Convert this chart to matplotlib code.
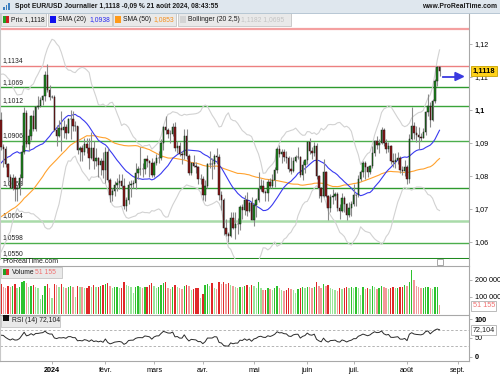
import numpy as np
import pandas as pd
import matplotlib
matplotlib.use('Agg')
import matplotlib.pyplot as plt
from matplotlib.patches import Rectangle, Polygon
from matplotlib.lines import Line2D
import matplotlib.transforms as mtransforms

plt.rcParams['font.family'] = ['Liberation Sans', 'DejaVu Sans']

# closes from 19 sept. to 29 nov. 2023, only used to warm up SMA / Bollinger / RSI
warmup_closes = [1.0677, 1.0660, 1.0660, 1.0645, 1.0590, 1.0570, 1.0500, 1.0565, 1.0573,
                 1.0477, 1.0468, 1.0505, 1.0549, 1.0588, 1.0564, 1.0605, 1.0620, 1.0529, 1.0509,
                 1.0559, 1.0576, 1.0536, 1.0578, 1.0594, 1.0670, 1.0589, 1.0565, 1.0563, 1.0565,
                 1.0615, 1.0577,
                 1.0571, 1.0620, 1.0728, 1.0721, 1.0697, 1.0709, 1.0666, 1.0684, 1.0700, 1.0880,
                 1.0849, 1.0851, 1.0912, 1.0940, 1.0906, 1.0887, 1.0903, 1.0941, 1.0953, 1.0994, 1.0970]

# daily EUR/USD, 30 nov. 2023 -> 21 août 2024 (one line per month)
opens = [
    1.0970, 1.0888, 1.0883, 1.0836, 1.0797, 1.0765, 1.0794, 1.0760, 1.0763, 1.0793, 1.0873, 1.0991, 1.0896, 1.0922, 1.0981, 1.0941, 1.1010, 1.1012, 1.1030, 1.1042, 1.1105, 1.1061,
    1.1039, 1.1040, 1.0940, 1.0921, 1.0946, 1.0940, 1.0949, 1.0931, 1.0972, 1.0973, 1.0951, 1.0951, 1.0878, 1.0884, 1.0874, 1.0897, 1.0884, 1.0856, 1.0884, 1.0844, 1.0854, 1.0833, 1.0845,
    1.0818, 1.0873, 1.0789, 1.0742, 1.0755, 1.0773, 1.0779, 1.0784, 1.0771, 1.0709, 1.0727, 1.0772, 1.0777, 1.0778, 1.0808, 1.0821, 1.0822, 1.0820, 1.0850, 1.0845, 1.0838,
    1.0804, 1.0838, 1.0855, 1.0856, 1.0900, 1.0947, 1.0938, 1.0927, 1.0926, 1.0947, 1.0884, 1.0890, 1.0866, 1.0865, 1.0922, 1.0862, 1.0809, 1.0838, 1.0831, 1.0826, 1.0790,
    1.0791, 1.0742, 1.0771, 1.0836, 1.0837, 1.0836, 1.0861, 1.0857, 1.0741, 1.0726, 1.0641, 1.0623, 1.0619, 1.0672, 1.0643, 1.0655, 1.0654, 1.0705, 1.0697, 1.0728, 1.0694, 1.0719,
    1.0666, 1.0711, 1.0727, 1.0761, 1.0771, 1.0752, 1.0748, 1.0783, 1.0771, 1.0789, 1.0819, 1.0883, 1.0866, 1.0872, 1.0857, 1.0854, 1.0821, 1.0816, 1.0846, 1.0857, 1.0858, 1.0802, 1.0833,
    1.0848, 1.0902, 1.0876, 1.0870, 1.0892, 1.0801, 1.0764, 1.0740, 1.0813, 1.0740, 1.0703, 1.0736, 1.0739, 1.0745, 1.0704, 1.0693, 1.0733, 1.0714, 1.0681, 1.0702,
    1.0714, 1.0742, 1.0742, 1.0790, 1.0811, 1.0840, 1.0826, 1.0813, 1.0830, 1.0870, 1.0907, 1.0895, 1.0901, 1.0939, 1.0899, 1.0881, 1.0891, 1.0845, 1.0843, 1.0849, 1.0855, 1.0817, 1.0815,
    1.0826, 1.0790, 1.0911, 1.0952, 1.0930, 1.0923, 1.0919, 1.0916, 1.0933, 1.0993, 1.1012, 1.0970, 1.1027, 1.1087, 1.1129,
]
highs = [
    1.0993, 1.0897, 1.0890, 1.0840, 1.0806, 1.0805, 1.0800, 1.0773, 1.0805, 1.0895, 1.1009, 1.1000, 1.0941, 1.0984, 1.1000, 1.1011, 1.1041, 1.1040, 1.1046, 1.1117, 1.1139, 1.1077,
    1.1045, 1.1046, 1.0954, 1.0970, 1.0998, 1.0969, 1.0958, 1.0976, 1.0999, 1.0998, 1.0968, 1.0951, 1.0890, 1.0895, 1.0916, 1.0914, 1.0914, 1.0932, 1.0905, 1.0885, 1.0857, 1.0855, 1.0873,
    1.0889, 1.0884, 1.0795, 1.0764, 1.0786, 1.0795, 1.0806, 1.0807, 1.0794, 1.0737, 1.0785, 1.0789, 1.0789, 1.0839, 1.0829, 1.0888, 1.0838, 1.0853, 1.0865, 1.0848, 1.0855,
    1.0846, 1.0866, 1.0877, 1.0912, 1.0951, 1.0981, 1.0944, 1.0940, 1.0961, 1.0964, 1.0906, 1.0903, 1.0875, 1.0942, 1.0942, 1.0866, 1.0842, 1.0864, 1.0842, 1.0829, 1.0805,
    1.0801, 1.0788, 1.0840, 1.0876, 1.0855, 1.0866, 1.0885, 1.0868, 1.0756, 1.0733, 1.0671, 1.0631, 1.0691, 1.0691, 1.0690, 1.0673, 1.0712, 1.0715, 1.0742, 1.0753, 1.0725, 1.0737,
    1.0719, 1.0732, 1.0812, 1.0791, 1.0789, 1.0758, 1.0790, 1.0793, 1.0806, 1.0827, 1.0887, 1.0895, 1.0882, 1.0882, 1.0877, 1.0862, 1.0858, 1.0858, 1.0865, 1.0889, 1.0862, 1.0846, 1.0852,
    1.0904, 1.0916, 1.0888, 1.0902, 1.0900, 1.0802, 1.0767, 1.0852, 1.0815, 1.0741, 1.0744, 1.0761, 1.0751, 1.0750, 1.0716, 1.0747, 1.0740, 1.0718, 1.0721, 1.0723,
    1.0777, 1.0746, 1.0803, 1.0817, 1.0845, 1.0845, 1.0830, 1.0834, 1.0892, 1.0910, 1.0922, 1.0912, 1.0948, 1.0944, 1.0912, 1.0903, 1.0895, 1.0869, 1.0869, 1.0872, 1.0860, 1.0829, 1.0848,
    1.0834, 1.0926, 1.1009, 1.0965, 1.0950, 1.0948, 1.0931, 1.0946, 1.0998, 1.1047, 1.1025, 1.1033, 1.1093, 1.1134, 1.1133,
]
lows = [
    1.0880, 1.0828, 1.0828, 1.0785, 1.0763, 1.0757, 1.0724, 1.0723, 1.0742, 1.0773, 1.0866, 1.0887, 1.0875, 1.0908, 1.0935, 1.0937, 1.1002, 1.1010, 1.1016, 1.1027, 1.1054, 1.1030,
    1.1035, 1.0937, 1.0892, 1.0917, 1.0877, 1.0916, 1.0911, 1.0931, 1.0912, 1.0937, 1.0937, 1.0867, 1.0845, 1.0845, 1.0865, 1.0871, 1.0821, 1.0852, 1.0822, 1.0829, 1.0796, 1.0804, 1.0795,
    1.0780, 1.0781, 1.0722, 1.0723, 1.0740, 1.0754, 1.0760, 1.0762, 1.0701, 1.0695, 1.0716, 1.0735, 1.0764, 1.0761, 1.0792, 1.0803, 1.0796, 1.0805, 1.0827, 1.0796, 1.0796,
    1.0797, 1.0834, 1.0838, 1.0848, 1.0880, 1.0926, 1.0915, 1.0900, 1.0920, 1.0877, 1.0870, 1.0861, 1.0835, 1.0850, 1.0853, 1.0802, 1.0804, 1.0828, 1.0810, 1.0776, 1.0775,
    1.0728, 1.0724, 1.0765, 1.0825, 1.0792, 1.0822, 1.0840, 1.0728, 1.0697, 1.0622, 1.0617, 1.0601, 1.0616, 1.0638, 1.0610, 1.0623, 1.0635, 1.0670, 1.0683, 1.0679, 1.0690, 1.0666,
    1.0649, 1.0675, 1.0720, 1.0755, 1.0749, 1.0724, 1.0724, 1.0764, 1.0764, 1.0766, 1.0810, 1.0857, 1.0838, 1.0846, 1.0838, 1.0812, 1.0805, 1.0812, 1.0842, 1.0850, 1.0797, 1.0788, 1.0810,
    1.0836, 1.0866, 1.0853, 1.0860, 1.0792, 1.0732, 1.0722, 1.0737, 1.0735, 1.0668, 1.0690, 1.0715, 1.0728, 1.0693, 1.0671, 1.0691, 1.0690, 1.0667, 1.0675, 1.0680,
    1.0710, 1.0710, 1.0737, 1.0785, 1.0796, 1.0792, 1.0796, 1.0806, 1.0825, 1.0860, 1.0882, 1.0870, 1.0896, 1.0891, 1.0869, 1.0874, 1.0837, 1.0826, 1.0825, 1.0837, 1.0808, 1.0802, 1.0800,
    1.0777, 1.0778, 1.0908, 1.0913, 1.0902, 1.0881, 1.0905, 1.0915, 1.0925, 1.0982, 1.0949, 1.0966, 1.1021, 1.1073, 1.1102,
]
closes = [
    1.0888, 1.0883, 1.0836, 1.0797, 1.0765, 1.0794, 1.0760, 1.0763, 1.0793, 1.0873, 1.0991, 1.0896, 1.0922, 1.0981, 1.0941, 1.1010, 1.1012, 1.1030, 1.1042, 1.1105, 1.1061, 1.1039,
    1.1040, 1.0940, 1.0921, 1.0946, 1.0940, 1.0949, 1.0931, 1.0972, 1.0973, 1.0951, 1.0951, 1.0878, 1.0884, 1.0874, 1.0897, 1.0884, 1.0856, 1.0884, 1.0844, 1.0854, 1.0833, 1.0845, 1.0818,
    1.0873, 1.0789, 1.0742, 1.0755, 1.0773, 1.0779, 1.0784, 1.0771, 1.0709, 1.0727, 1.0772, 1.0777, 1.0778, 1.0808, 1.0821, 1.0822, 1.0820, 1.0850, 1.0845, 1.0838, 1.0804,
    1.0838, 1.0855, 1.0856, 1.0900, 1.0947, 1.0938, 1.0927, 1.0926, 1.0947, 1.0884, 1.0890, 1.0866, 1.0865, 1.0922, 1.0862, 1.0809, 1.0838, 1.0831, 1.0826, 1.0790, 1.0791,
    1.0742, 1.0771, 1.0836, 1.0837, 1.0836, 1.0861, 1.0857, 1.0741, 1.0726, 1.0641, 1.0623, 1.0619, 1.0672, 1.0643, 1.0655, 1.0654, 1.0705, 1.0697, 1.0728, 1.0694, 1.0719, 1.0666,
    1.0711, 1.0727, 1.0761, 1.0771, 1.0752, 1.0748, 1.0783, 1.0771, 1.0789, 1.0819, 1.0883, 1.0866, 1.0872, 1.0857, 1.0854, 1.0821, 1.0816, 1.0846, 1.0857, 1.0858, 1.0802, 1.0833, 1.0848,
    1.0902, 1.0876, 1.0870, 1.0892, 1.0801, 1.0764, 1.0740, 1.0813, 1.0740, 1.0703, 1.0736, 1.0739, 1.0745, 1.0704, 1.0693, 1.0733, 1.0714, 1.0681, 1.0702, 1.0714,
    1.0742, 1.0742, 1.0790, 1.0811, 1.0840, 1.0826, 1.0813, 1.0830, 1.0870, 1.0907, 1.0895, 1.0901, 1.0939, 1.0899, 1.0881, 1.0891, 1.0845, 1.0843, 1.0849, 1.0855, 1.0817, 1.0815, 1.0826,
    1.0790, 1.0911, 1.0952, 1.0930, 1.0923, 1.0919, 1.0916, 1.0933, 1.0993, 1.1012, 1.0970, 1.1027, 1.1087, 1.1129, 1.1118,
]
# volume, thousands
volumes = [
    175, 160, 150, 165, 160, 165, 175, 150, 160, 185, 195, 180, 160, 165, 170, 160, 150, 85, 110, 165, 175, 150,
    95, 175, 170, 160, 175, 155, 150, 160, 165, 155, 100, 165, 160, 155, 150, 150, 165, 160, 170, 155, 160, 165, 170,
    175, 180, 165, 150, 155, 160, 150, 150, 185, 170, 165, 160, 120, 155, 165, 160, 150, 155, 160, 170, 180,
    165, 150, 160, 170, 180, 185, 150, 145, 160, 170, 160, 150, 145, 165, 170, 165, 140, 145, 150, 150, 95,
    115, 170, 175, 165, 180, 150, 145, 185, 175, 185, 175, 180, 170, 165, 160, 150, 160, 155, 165, 170, 155, 170,
    165, 150, 185, 150, 140, 140, 150, 145, 140, 150, 165, 150, 140, 135, 140, 150, 145, 140, 120, 145, 150, 155, 150,
    160, 155, 150, 155, 185, 165, 150, 175, 165, 170, 150, 145, 140, 135, 150, 145, 150, 155, 150, 160,
    150, 155, 150, 110, 160, 145, 150, 145, 165, 160, 145, 150, 165, 160, 150, 145, 150, 155, 150, 150, 155, 160, 170,
    165, 190, 260, 200, 165, 160, 150, 150, 155, 160, 150, 145, 160, 160, 51.155,
]

levels = [1.1245, 1.1134, 1.1069, 1.1012, 1.0906, 1.0763, 1.0664, 1.0598, 1.0550]
level_labels = ['', '1,1134', '1,1069', '1,1012', '1,0906', '1,0763', '1,0664', '1,0598', '1,0550']
level_colors = ['#f4a0a0', '#ec8080', '#2e9a2e', '#3aa43a', '#4cae4c', '#2e9a2e', '#a9dba9', '#4cae4c', '#1f8a1f']
level_widths = [1.6, 1.0, 1.0, 1.0, 1.0, 1.0, 1.8, 1.0, 2.2]

price_ticks = [1.06, 1.07, 1.08, 1.09, 1.10, 1.11, 1.12]
price_tick_labels = ['1,06', '1,07', '1,08', '1,09', '1,1', '1,11', '1,12']
month_starts = ['2024-01-01', '2024-02-01', '2024-03-01', '2024-04-01', '2024-05-01',
                '2024-06-01', '2024-07-01', '2024-08-01', '2024-09-01']
month_labels = ['2024', 'févr.', 'mars', 'avr.', 'mai', 'juin', 'juil.', 'août', 'sept.']

W, H = 500, 375


def box(x0, y0, x1, y1):
    # pixel rectangle (top-left origin) -> figure fraction
    return [x0 / W, 1 - y1 / H, (x1 - x0) / W, (y1 - y0) / H]


def fx(x):
    return x / W


def fy(y):
    return 1 - y / H


o = np.array(opens)
h = np.array(highs)
l = np.array(lows)
c = np.array(closes)
v = np.array(volumes)
n = len(c)
idx = np.arange(n)

# indicators
full = pd.Series(warmup_closes + closes)
sma20 = full.rolling(20).mean().values[-n:]
sma50 = full.rolling(50).mean().values[-n:]
sd20 = full.rolling(20).std(ddof=0).values[-n:]
bb_up = sma20 + 2.5 * sd20
bb_dn = sma20 - 2.5 * sd20
delta = full.diff()
gain = delta.clip(lower=0).ewm(alpha=1 / 14, adjust=False).mean()
loss = (-delta.clip(upper=0)).ewm(alpha=1 / 14, adjust=False).mean()
rsi = (100 - 100 / (1 + gain / loss)).values[-n:]

all_days = pd.bdate_range('2023-11-30', '2024-09-30')
month_pos = [int(all_days.searchsorted(pd.Timestamp(m))) for m in month_starts]

fig = plt.figure(figsize=(5, 3.75), dpi=100)
fig.patch.set_facecolor('white')
xlim = (-0.41, 201.7)
spine_c = '#a8a8a8'

# ---------------- price panel
ax = fig.add_axes(box(0, 13, 469, 258.5))
ax.set_xlim(*xlim)
ax.set_ylim(1.05500, 1.12939)
for lv, lab, col, lw in zip(levels, level_labels, level_colors, level_widths):
    ax.axhline(lv, color=col, lw=lw, zorder=1)
    if lab:
        ax.text(0.8, lv + 0.0005, lab, fontsize=4.9, color='#222222', va='bottom', ha='left', zorder=1.5)

ax.plot(idx, bb_up, color='#d2d2d2', lw=0.8, zorder=2)
ax.plot(idx, bb_dn, color='#d2d2d2', lw=0.8, zorder=2)
ax.plot(idx, sma50, color='#ffa22e', lw=0.8, zorder=2)
ax.plot(idx, sma20, color='#3a3af0', lw=0.8, zorder=2)

ax.vlines(idx, l, h, color='#8a8a8a', lw=0.8, zorder=3)
up = c >= o
body_col = np.where(up, '#1c8a1c', '#8e1414')
body = np.maximum(np.abs(c - o), 0.00008)
ax.bar(idx, body, bottom=np.minimum(o, c), width=0.62, color=body_col,
       edgecolor='#1a1a1a', linewidth=0.35, zorder=4)

ax.yaxis.tick_right()
ax.set_yticks(price_ticks)
ax.set_yticklabels(price_tick_labels)
ax.tick_params(axis='y', length=2, width=0.6, color=spine_c, pad=2, labelsize=5.2)
for t in ax.get_yticklabels():
    if t.get_text() == '1,1':
        t.set_fontweight('bold')
ax.set_xticks([])
for s in ['top', 'bottom']:
    ax.spines[s].set_visible(False)
ax.spines['right'].set_color(spine_c)
ax.spines['left'].set_color('#c8c8c8')

# last price label + arrow
trans = mtransforms.blended_transform_factory(ax.transAxes, ax.transData)
ax.text(1.008, c[-1], '1,1118', transform=trans, fontsize=5.4, fontweight='bold',
        va='center', ha='left', zorder=10,
        bbox=dict(boxstyle='square,pad=0.25', fc='#ffd21a', ec='#c8a200', lw=0.6))
fig.add_artist(Line2D([fx(443), fx(456)], [fy(76.5), fy(76.5)], color='#3a3ae0', lw=1.3,
                      transform=fig.transFigure))
fig.add_artist(Polygon([[fx(455), fy(72.5)], [fx(463.5), fy(76.5)], [fx(455), fy(80.5)]],
                       closed=True, color='#3a3ae0', transform=fig.transFigure))

# ---------------- separator between panels
fig.text(fx(2), fy(261.5), 'ProRealTime.com', fontsize=5, va='center', ha='left', color='#222222')
fig.add_artist(Line2D([0, fx(469)], [fy(265.5), fy(265.5)], color=spine_c, lw=0.8,
                      transform=fig.transFigure))
fig.add_artist(Line2D([fx(469), fx(469)], [fy(258.5), fy(265.5)], color=spine_c, lw=0.8,
                      transform=fig.transFigure))
fig.patches.append(Rectangle((fx(437), fy(264.5)), 6 / W, 5.5 / H, transform=fig.transFigure,
                             fc='white', ec='#999999', lw=0.6))

# ---------------- volume panel
axv = fig.add_axes(box(0, 265.5, 469, 313.5))
axv.set_xlim(*xlim)
axv.set_ylim(0, 285)
prev = np.concatenate([[v[0]], v[:-1]])
vcol = []
for i in range(n):
    if up[i]:
        vcol.append('#2ec22e' if v[i] >= prev[i] else '#9ae49a')
    else:
        vcol.append('#e02828' if v[i] >= prev[i] else '#f29a9a')
axv.bar(idx, v, width=0.6, color=vcol, linewidth=0)
axv.yaxis.tick_right()
axv.set_yticks([100, 200])
axv.set_yticklabels(['100 000', '200 000'])
axv.tick_params(axis='y', length=2, width=0.6, color=spine_c, pad=2, labelsize=5.2)
axv.set_xticks([])
for s in ['top', 'bottom']:
    axv.spines[s].set_visible(False)
axv.spines['right'].set_color(spine_c)
axv.spines['left'].set_color('#c8c8c8')
transv = mtransforms.blended_transform_factory(axv.transAxes, axv.transData)
axv.text(1.008, v[-1] - 6, '51 155', transform=transv, fontsize=5.2, color='#f07070',
         va='center', ha='left', zorder=10,
         bbox=dict(boxstyle='square,pad=0.2', fc='white', ec='#b0b0b0', lw=0.6))

# ---------------- RSI panel
axr = fig.add_axes(box(0, 314.5, 469, 361))
axr.set_xlim(*xlim)
axr.set_ylim(-10.7, 112)
axr.axhline(70, color='#b4b4b4', lw=0.7, ls=(0, (2.5, 2)))
axr.axhline(30, color='#b4b4b4', lw=0.7, ls=(0, (2.5, 2)))
axr.plot(idx, rsi, color='#2a2a2a', lw=0.7)
axr.yaxis.tick_right()
axr.set_yticks([0, 50, 100])
axr.set_yticklabels(['0', '50', '100'])
axr.tick_params(axis='y', length=2, width=0.6, color=spine_c, pad=2, labelsize=5.2)
for t in axr.get_yticklabels():
    if t.get_text() in ('0', '100'):
        t.set_fontweight('bold')
axr.set_xticks(month_pos)
axr.set_xticklabels(month_labels)
axr.tick_params(axis='x', length=2, width=0.6, color=spine_c, pad=2, labelsize=5.2)
axr.get_xticklabels()[0].set_fontweight('bold')
axr.spines['top'].set_color(spine_c)
axr.spines['right'].set_color(spine_c)
axr.spines['bottom'].set_color(spine_c)
axr.spines['left'].set_color('#c8c8c8')
transr = mtransforms.blended_transform_factory(axr.transAxes, axr.transData)
axr.text(1.008, 72.1, '72,104', transform=transr, fontsize=5.2, color='#222222',
         va='center', ha='left', zorder=10,
         bbox=dict(boxstyle='square,pad=0.2', fc='white', ec='#b0b0b0', lw=0.6))

# ---------------- header
fig.patches.append(Rectangle((0, fy(12.5)), 1, 12.5 / H, transform=fig.transFigure,
                             fc='#dfe7ee', ec='none'))
fig.add_artist(Line2D([0, 1], [fy(12.5), fy(12.5)], color='#b7c7d4', lw=0.7, transform=fig.transFigure))
for bx, bh in [(3, 3), (5.5, 5), (8, 7)]:
    fig.patches.append(Rectangle((fx(bx), fy(10)), 1.6 / W, bh / H, transform=fig.transFigure,
                                 fc='#3d7fc0', ec='none'))
fig.text(fx(15), fy(6.3), 'Spot EUR/USD Journalier 1,1118 -0,09 % 21 août 2024, 08:43:55',
         fontsize=4.9, fontweight='bold', va='center', ha='left', color='#1a1a1a')
fig.text(fx(497), fy(6.3), 'www.ProRealTime.com', fontsize=4.9, fontweight='bold',
         va='center', ha='right', color='#1a1a1a')


def legend_box(x0, x1, y0=13.5, y1=25.5):
    fig.patches.append(Rectangle((fx(x0), fy(y1)), (x1 - x0) / W, (y1 - y0) / H,
                                 transform=fig.transFigure, fc='#e9e9e9', ec='#c4c4c4', lw=0.6))


def swatch(x0, col, y=19.5):
    fig.patches.append(Rectangle((fx(x0), fy(y + 3)), 6 / W, 6 / H, transform=fig.transFigure,
                                 fc=col, ec='none'))


ly = 19.5
legend_box(1, 46)
fig.patches.append(Rectangle((fx(3), fy(ly + 3.5)), 3 / W, 7 / H, transform=fig.transFigure, fc='#22a022', ec='none'))
fig.patches.append(Rectangle((fx(6), fy(ly + 3.5)), 3 / W, 7 / H, transform=fig.transFigure, fc='#cc2020', ec='none'))
fig.text(fx(11), fy(ly), 'Prix 1,1118', fontsize=4.9, va='center', ha='left', color='#1a1a1a')
legend_box(48, 112)
swatch(50, '#1010ee')
fig.text(fx(58), fy(ly), 'SMA (20)', fontsize=4.9, va='center', ha='left', color='#1a1a1a')
fig.text(fx(89), fy(ly), '1,0938', fontsize=4.9, va='center', ha='left', color='#2a2af0')
legend_box(113, 176)
swatch(115, '#ff9a1a')
fig.text(fx(123), fy(ly), 'SMA (50)', fontsize=4.9, va='center', ha='left', color='#1a1a1a')
fig.text(fx(153), fy(ly), '1,0853', fontsize=4.9, va='center', ha='left', color='#f59020')
legend_box(178, 291)
swatch(180, '#d4d4d4')
fig.text(fx(188), fy(ly), 'Bollinger (20 2,5)', fontsize=4.9, va='center', ha='left', color='#1a1a1a')
fig.text(fx(241), fy(ly), '1,1182 1,0695', fontsize=4.9, va='center', ha='left', color='#c4c4c4')

legend_box(1, 62, 266.5, 277.5)
fig.patches.append(Rectangle((fx(3), fy(275)), 3 / W, 6 / H, transform=fig.transFigure, fc='#22a022', ec='none'))
fig.patches.append(Rectangle((fx(6), fy(275)), 3 / W, 6 / H, transform=fig.transFigure, fc='#e03030', ec='none'))
fig.text(fx(12), fy(272), 'Volume', fontsize=4.9, va='center', ha='left', color='#1a1a1a')
fig.text(fx(35), fy(272), '51 155', fontsize=4.9, va='center', ha='left', color='#f07070')

legend_box(1, 60, 315.5, 326.5)
swatch(3, '#111111', y=318)
fig.text(fx(12), fy(321), 'RSI (14) 72,104', fontsize=4.9, va='center', ha='left', color='#1a1a1a')

fig.savefig('out.png', dpi=100)
